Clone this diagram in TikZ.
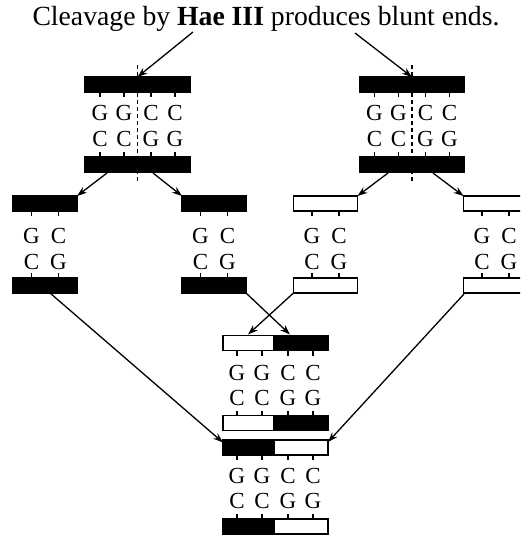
\documentclass[tikz,border=0pt]{standalone}
\usepackage{fontspec}
\setmainfont{Liberation Serif}
\usetikzlibrary{arrows.meta}
\begin{document}
\begin{tikzpicture}[x=1pt,y=-1pt,
  bar/.style={draw=black, line width=1.4pt, minimum height=15pt, inner sep=0pt, outer sep=0pt},
  nuc/.style={font=\fontsize{23}{23}\selectfont, inner sep=0pt},
  tick/.style={line width=1.2pt},
  cutline/.style={line width=1.1pt, dash pattern=on 4pt off 3pt},
  arr/.style={line width=1.3pt, -{Stealth[length=10pt,width=7pt]}}]
\clip (0,0) rectangle (520,536);

% heading
\node[font=\fontsize{27.7}{28}\selectfont, anchor=base, inner sep=0pt] (title) at (266,25)
  {Cleavage by \textbf{Hae III} produces blunt ends.};

% two parent duplexes, each cut through the middle of GGCC
\foreach \n/\cx in {tl/137.5, tr/412} {
  \draw[cutline] (\cx,65) -- (\cx,183);
  \node[bar, fill=black, minimum width=105pt] (\n-T) at (\cx,84.5) {};
  \node[bar, fill=black, minimum width=105pt] (\n-B) at (\cx,164.5) {};
  \foreach \dx/\a/\b [count=\i] in {-37.5/G/C, -13.5/G/C, 13.5/C/G, 37.5/C/G} {
    \draw[tick] ([xshift=\dx pt]\n-T.south) -- ++(0,5);
    \draw[tick] ([xshift=\dx pt]\n-B.north) -- ++(0,-5);
    \node[nuc] (\n-U\i) at (\cx+\dx,112.5) {\a};
    \node[nuc] (\n-L\i) at (\cx+\dx,139) {\b};
  }
}

% the four blunt-ended fragments
\foreach \n/\cx/\fc in {p1/45/black, p2/214/black, p3/325.5/white, p4/495.5/white} {
  \node[bar, fill=\fc, minimum width=64pt] (\n-T) at (\cx,203.5) {};
  \node[bar, fill=\fc, minimum width=64pt] (\n-B) at (\cx,285.5) {};
  \foreach \dx/\a/\b [count=\i] in {-13.5/G/C, 13.5/C/G} {
    \draw[tick] ([xshift=\dx pt]\n-T.south) -- ++(0,5);
    \draw[tick] ([xshift=\dx pt]\n-B.north) -- ++(0,-5);
    \node[nuc] (\n-U\i) at (\cx+\dx,235.5) {\a};
    \node[nuc] (\n-L\i) at (\cx+\dx,262) {\b};
  }
}

% recombined duplexes
\foreach \n/\y/\fl/\fr in {m1/343/white/black, m2/423/white/black, m3/447.5/black/white, m4/526.5/black/white} {
  \node[bar, fill=\fl, minimum width=51pt] (\n-L) at (248.5,\y) {};
  \node[bar, fill=\fr, minimum width=54pt] (\n-R) at (301,\y) {};
}
\foreach \x/\a/\b [count=\i] in {237/G/C, 262/G/C, 288/C/G, 313/C/G} {
  \draw[tick] (\x,350.5) -- ++(0,5);
  \draw[tick] (\x,415.5) -- ++(0,-5);
  \draw[tick] (\x,455) -- ++(0,5);
  \draw[tick] (\x,519) -- ++(0,-5);
  \node[nuc] (ua\i) at (\x,372.5) {\a};
  \node[nuc] (la\i) at (\x,398) {\b};
  \node[nuc] (ub\i) at (\x,475.5) {\a};
  \node[nuc] (lb\i) at (\x,501) {\b};
}

% arrow ends
\coordinate (ta) at (193,32);
\coordinate (tb) at (355,33);
\coordinate (s1) at (107,173);
\coordinate (s2) at (153,173);
\coordinate (s3) at (388,173);
\coordinate (s4) at (433,173);
\coordinate (s5) at (50,293);
\coordinate (s6) at (464,294);
\coordinate (e1) at (290,334.5);
\coordinate (e2) at (248,334.5);

\draw[arr] (ta) -- (tl-T.north);
\draw[arr] (tb) -- (tr-T.north);
\draw[arr] (s1) -- (p1-T.north east);
\draw[arr] (s2) -- (p2-T.north west);
\draw[arr] (s3) -- (p3-T.north east);
\draw[arr] (s4) -- (p4-T.north west);
\draw[arr] (p2-B.south east) -- (e1);
\draw[arr] (p3-B.south west) -- (e2);
\draw[arr] (s5) -- ([yshift=-2.5pt]m3-L.north west);
\draw[arr] (s6) -- ([yshift=-2pt]m3-R.north east);
\end{tikzpicture}
\end{document}
